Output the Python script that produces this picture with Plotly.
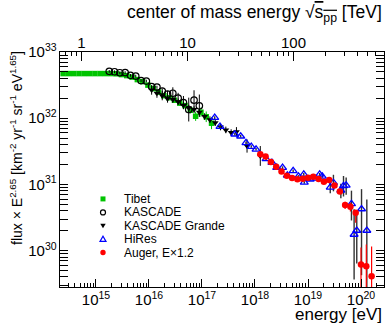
import numpy as np
import plotly.graph_objects as go

# ---------------- data: energy [eV] and flux x E^2.65 ----------------
tibet_logE = [14.38, 14.48, 14.58, 14.68, 14.78, 14.88, 14.98, 15.08, 15.18, 15.28,
              15.38, 15.48, 15.58, 15.68, 15.78, 15.88, 15.98, 16.08, 16.18, 16.28,
              16.38, 16.48, 16.58, 16.68, 16.78, 16.88, 16.98, 17.08, 17.18]
tibet_flux = [4.72e32, 4.72e32, 4.72e32, 4.72e32, 4.72e32, 4.72e32, 4.72e32, 4.72e32, 4.72e32, 4.72e32,
              4.69e32, 4.56e32, 4.40e32, 4.18e32, 3.83e32, 3.57e32, 3.16e32, 2.80e32, 2.48e32, 2.19e32,
              2.04e32, 1.87e32, 1.69e32, 1.55e32, 1.32e32, 1.07e32, 1.23e32, 1.05e32, 8.40e31]
tibet_err = [0.005] * 10 + [0.01] * 6 + [0.02] * 4 + [0.03, 0.03, 0.04, 0.04, 0.05, 0.07, 0.07, 0.08, 0.09]

kascade_logE = [15.25, 15.35, 15.45, 15.55, 15.65, 15.75, 15.85, 15.95, 16.05,
                16.15, 16.25, 16.35, 16.45, 16.55, 16.65, 16.75, 16.85, 16.95]
kascade_flux = [5.10e32, 5.03e32, 4.86e32, 4.89e32, 4.44e32, 4.33e32, 3.70e32, 3.64e32, 3.00e32,
                2.95e32, 2.57e32, 2.31e32, 2.38e32, 2.01e32, 1.72e32, 1.35e32, 1.87e32, 1.54e32]
kascade_err = [0.02] * 10 + [0.04, 0.05, 0.09, 0.08, 0.10, 0.18, 0.15, 0.17]

grande_logE = [16.05, 16.15, 16.25, 16.35, 16.45, 16.55, 16.65, 16.75, 16.85, 16.95,
               17.05, 17.15, 17.25, 17.35, 17.45, 17.55, 17.65, 17.85, 18.10]
grande_flux = [2.66e32, 2.39e32, 2.19e32, 1.97e32, 1.91e32, 1.77e32, 1.57e32, 1.42e32, 1.35e32, 1.23e32,
               1.06e32, 9.49e31, 8.55e31, 7.36e31, 6.65e31, 6.07e31, 6.24e31, 3.80e31, 2.69e31]
grande_err = [0.07, 0.07, 0.07, 0.06, 0.05, 0.05, 0.05, 0.05, 0.05, 0.05,
              0.05, 0.05, 0.05, 0.05, 0.05, 0.05, 0.07, 0.10, 0.15]

hires_logE = [17.24, 17.34, 17.62, 17.73, 17.83, 17.93, 18.02, 18.21, 18.32, 18.41,
              18.52, 18.61, 18.72, 18.82, 18.92, 18.93, 19.04, 19.10, 19.22, 19.27,
              19.42, 19.48, 19.62, 19.67, 19.72, 19.82, 19.87, 19.92, 20.01, 20.11]
hires_flux = [1.02e32, 7.48e31, 5.72e31, 5.34e31, 4.25e31, 3.73e31, 3.39e31, 2.43e31, 2.13e31, 1.79e31,
              1.79e31, 1.37e31, 1.60e31, 1.32e31, 1.42e31, 1.07e31, 1.19e31, 1.23e31, 1.42e31, 1.32e31,
              9.01e30, 1.06e31, 8.11e30, 9.49e30, 9.66e30, 5.07e30, 1.75e30, 2.01e30, 4.25e30, 2.01e30]
hires_err_up = [0.02] * 20 + [0.08, 0.12, 0.10, 0.15, 0.12, 0.20, 0.38, 0.30, 0.30, 0.47]
hires_err_dn = [0.02] * 20 + [0.09, 0.13, 0.12, 0.16, 0.14, 0.25, 0.68, 0.50, 1.00, 1.00]

auger_logE = [18.1, 18.2, 18.3, 18.4, 18.5, 18.6, 18.7, 18.8, 18.9, 19.0, 19.1,
              19.2, 19.3, 19.4, 19.5, 19.6, 19.7, 19.8, 19.9, 20.0, 20.1, 20.2]
auger_flux = [2.85e31, 2.63e31, 2.18e31, 1.85e31, 1.57e31, 1.35e31, 1.25e31, 1.20e31, 1.22e31, 1.26e31, 1.31e31,
              1.21e31, 1.10e31, 1.17e31, 9.66e30, 7.83e30, 4.89e30, 4.59e30, 3.73e30, 6.14e29, 5.78e29, 4.08e29]
auger_err_up = [0.01] * 12 + [0.02, 0.02, 0.03, 0.04, 0.05, 0.06, 0.03, 0.26, 0.33, 0.45]
auger_err_dn = [0.01] * 12 + [0.02, 0.02, 0.03, 0.04, 0.06, 0.07, 0.15, 1.00, 1.00, 1.00]

legend_labels = ["Tibet", "KASCADE", "KASCADE Grande", "HiRes", "Auger, E\u00d71.2"]

# axis ranges (log10)
logE_range = [14.321, 20.434]
logF_range = [29.45, 33.0]
PROTON_MASS_EV = 0.938272e9

FONT = "Liberation Sans, Arial, Helvetica, sans-serif"
GREEN, BLUE, RED = "#00c400", "#0000ff", "#ff0000"


def energies(logs):
    return [10 ** v for v in logs]


def err_bars(flux, up, dn, color, thickness=1.0):
    f = np.asarray(flux)
    return dict(type="data", symmetric=False,
                array=(f * (10 ** np.asarray(up) - 1)).tolist(),
                arrayminus=(f * (1 - 10 ** (-np.asarray(dn)))).tolist(),
                color=color, thickness=thickness, width=0)


fig = go.Figure()

fig.add_trace(go.Scatter(
    x=energies(tibet_logE), y=tibet_flux, mode="markers", name=legend_labels[0],
    marker=dict(symbol="square", size=5.5, color=GREEN, line=dict(width=0)),
    error_y=err_bars(tibet_flux, tibet_err, tibet_err, GREEN)))

fig.add_trace(go.Scatter(
    x=energies(kascade_logE), y=kascade_flux, mode="markers", name=legend_labels[1],
    marker=dict(symbol="circle-open", size=6.5, color="black", line=dict(width=1.2, color="black")),
    error_y=err_bars(kascade_flux, kascade_err, kascade_err, "black")))

fig.add_trace(go.Scatter(
    x=energies(grande_logE), y=grande_flux, mode="markers", name=legend_labels[2],
    marker=dict(symbol="triangle-down", size=6, color="black", line=dict(width=0)),
    error_y=err_bars(grande_flux, grande_err, grande_err, "black")))

fig.add_trace(go.Scatter(
    x=energies(hires_logE), y=hires_flux, mode="markers", name=legend_labels[3],
    marker=dict(symbol="triangle-up-open", size=7, color=BLUE, line=dict(width=1.3, color=BLUE)),
    error_y=err_bars(hires_flux, hires_err_up, hires_err_dn, "#333333", 1.4)))

fig.add_trace(go.Scatter(
    x=energies(auger_logE), y=auger_flux, mode="markers", name=legend_labels[4],
    marker=dict(symbol="circle", size=6.5, color=RED, line=dict(width=0)),
    error_y=err_bars(auger_flux, auger_err_up, auger_err_dn, RED, 1.2)))

# empty trace that carries the centre-of-mass energy axis on top
fig.add_trace(go.Scatter(x=[], y=[], xaxis="x2", yaxis="y", hoverinfo="skip"))

# legend: keys as pixel-sized shapes, labels as annotations (compact row spacing)
leg_x = 0.1327
leg_y = [0.3748, 0.3175, 0.2607, 0.2038, 0.1466]
key_shapes = [
    dict(type="rect", x0=-2.5, x1=2.5, y0=-2.5, y1=2.5, fillcolor=GREEN, line=dict(width=0)),
    dict(type="circle", x0=-2.5, x1=2.5, y0=-2.5, y1=2.5, fillcolor="rgba(0,0,0,0)",
         line=dict(color="black", width=1.2)),
    dict(type="path", path="M -2.7,2 L 2.7,2 L 0,-2.6 Z", fillcolor="black", line=dict(width=0)),
    dict(type="path", path="M -3,-2.3 L 3,-2.3 L 0,3 Z", fillcolor="rgba(0,0,0,0)",
         line=dict(color=BLUE, width=1.2)),
    dict(type="circle", x0=-2.7, x1=2.7, y0=-2.7, y1=2.7, fillcolor=RED, line=dict(width=0)),
]
for yy, shp in zip(leg_y, key_shapes):
    fig.add_shape(xref="paper", yref="paper", xsizemode="pixel", ysizemode="pixel",
                  xanchor=leg_x, yanchor=yy, layer="above", **shp)
for yy, lab in zip(leg_y, legend_labels):
    fig.add_annotation(x=0.19, y=yy, xref="paper", yref="paper", text=lab, showarrow=False,
                       xanchor="left", yanchor="middle", font=dict(family=FONT, size=12, color="black"))

tick_font = dict(family=FONT, size=12, color="black")
sqrt_s_range = [0.5 * (np.log10(2 * PROTON_MASS_EV) + v) - 12 for v in logE_range]

fig.update_layout(
    width=386, height=324, margin=dict(l=60, r=2, t=52, b=37),
    paper_bgcolor="white", plot_bgcolor="white", showlegend=False,
    font=dict(family=FONT, color="black"),
    xaxis=dict(type="log", range=logE_range, dtick=1, exponentformat="power", showexponent="all",
               ticks="inside", ticklen=8, tickwidth=1, tickcolor="black",
               minor=dict(ticks="inside", ticklen=4, tickcolor="black", dtick="D1", showgrid=False),
               showline=True, linecolor="black", linewidth=1, mirror=True,
               showgrid=False, zeroline=False, tickfont=tick_font),
    xaxis2=dict(type="log", range=sqrt_s_range, overlaying="x", side="top", anchor="y",
                dtick=1, ticks="inside", ticklen=9, tickwidth=1, tickcolor="black",
                minor=dict(ticks="inside", ticklen=4, tickcolor="black", dtick="D1", showgrid=False),
                showgrid=False, zeroline=False, showline=False,
                tickfont=dict(family=FONT, size=15, color="black")),
    yaxis=dict(type="log", range=logF_range, dtick=1, exponentformat="power", showexponent="all",
               ticks="inside", ticklen=8, tickwidth=1, tickcolor="black",
               minor=dict(ticks="inside", ticklen=4, tickcolor="black", dtick="D1", showgrid=False),
               showline=True, linecolor="black", linewidth=1, mirror="allticks",
               showgrid=False, zeroline=False, tickfont=tick_font),
)

# axis titles in ROOT style (aligned to the axis ends)
fig.add_annotation(x=1.0, y=1.1624, xref="paper", yref="paper", xanchor="right", yanchor="middle",
                   text="center of mass energy \u221a<span style='text-decoration:overline'>s<sub>pp</sub></span> [TeV]",
                   showarrow=False, font=dict(family=FONT, size=17.5, color="black"))
fig.add_annotation(x=1.0, y=-0.115, xref="paper", yref="paper", xanchor="right", yanchor="middle",
                   text="energy [eV]", showarrow=False, font=dict(family=FONT, size=17, color="black"))
fig.add_annotation(x=-0.1358, y=1.013, xref="paper", yref="paper", xanchor="center", yanchor="top",
                   textangle=-90,
                   text="flux \u00d7 E<sup>2.65</sup> [km<sup>-2</sup> yr<sup>-1</sup> sr<sup>-1</sup> eV<sup>1.65</sup>]",
                   showarrow=False, font=dict(family=FONT, size=14, color="black"))

fig.write_html("out.html")
